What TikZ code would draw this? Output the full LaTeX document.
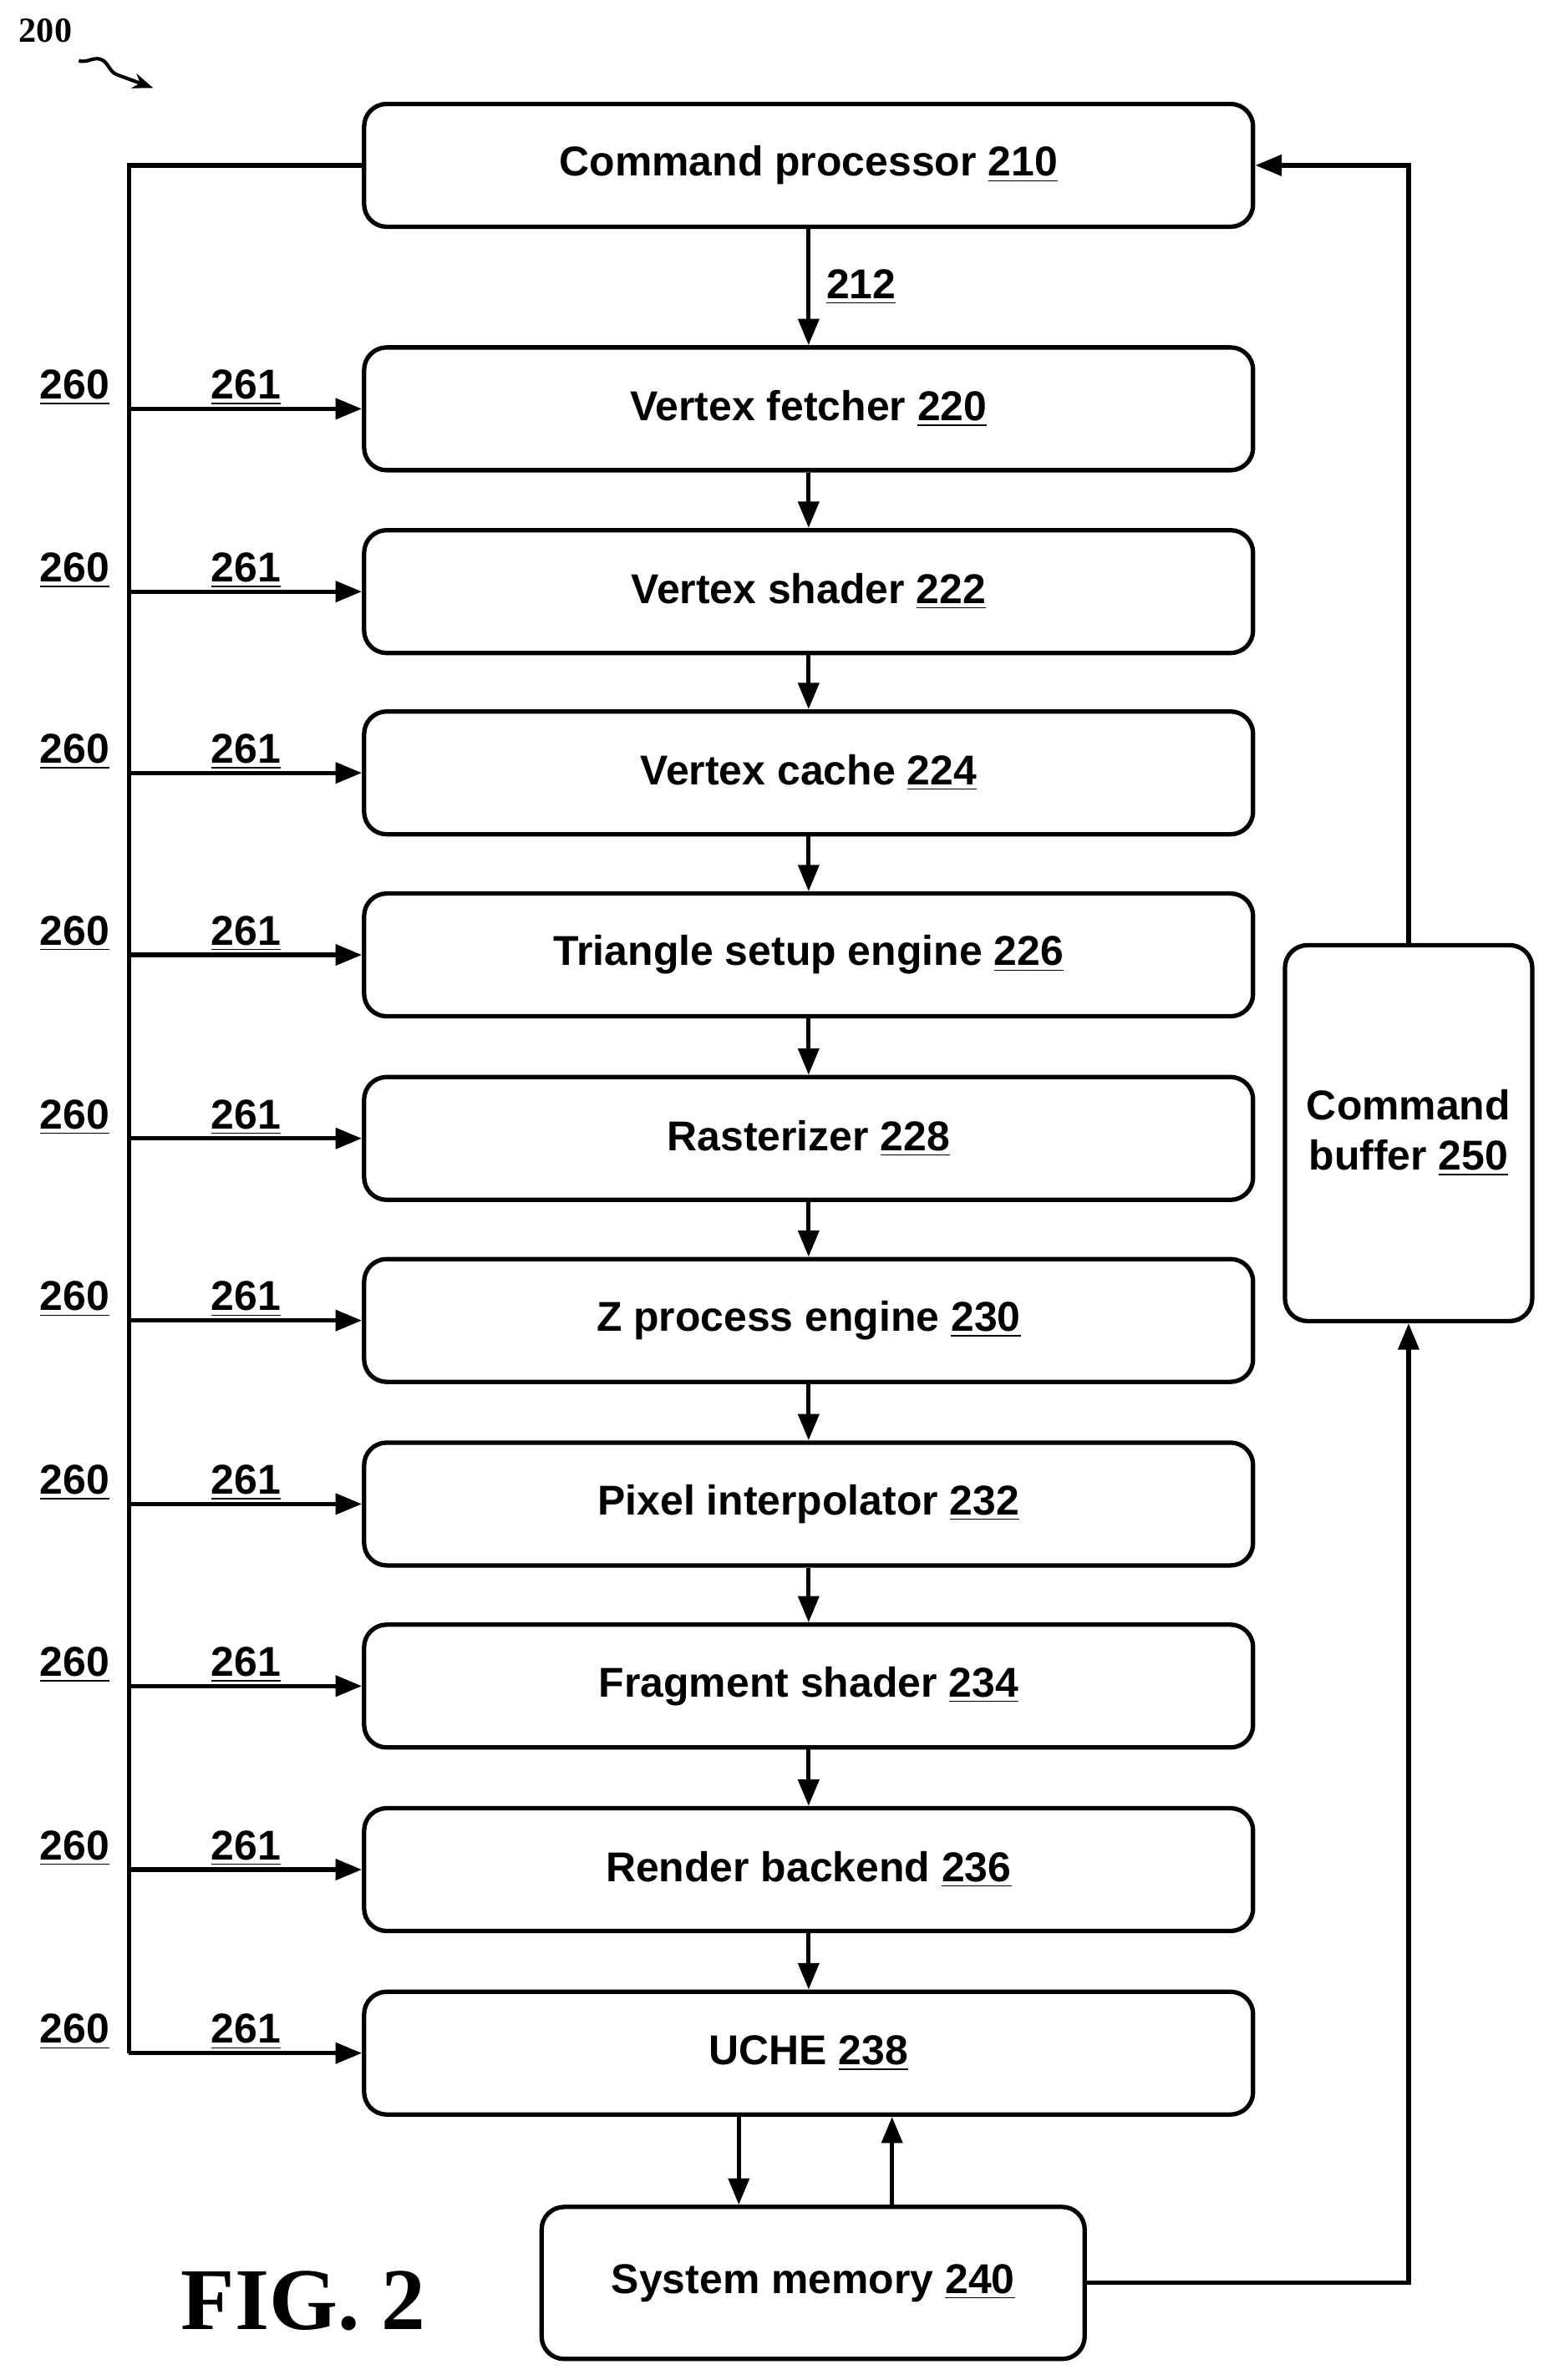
\documentclass[tikz,border=0pt]{standalone}
\usepackage{fontspec}
\setmainfont{Liberation Sans}
\newfontfamily\figfont{Liberation Serif}
\usetikzlibrary{arrows.meta,decorations.pathmorphing}

\tikzset{
  stage/.style={draw,line width=1.5pt,rounded corners=0.27cm,minimum width=10.64cm,minimum height=1.47cm,font=\bfseries\fontsize{14.2}{17}\selectfont,align=center},
  ref/.style={font=\bfseries\fontsize{14.2}{17}\selectfont},
  conn/.style={line width=1.5pt,-{Triangle[length=9pt,width=7pt]}},
  wire/.style={line width=1.5pt}
}
\newcommand{\num}[1]{\underline{#1}}

\begin{document}
\begin{tikzpicture}[x=0.018154cm,y=-0.018154cm]
\useasboundingbox (0,0) rectangle (1024,1569);
\node[stage] (cp) at (533,109) {Command processor \num{210}};
\foreach \name/\y/\txt in {vf/269.5/Vertex fetcher \num{220},vs/390/Vertex shader \num{222},vc/509.5/Vertex cache \num{224},ts/629.5/Triangle setup engine \num{226},ra/750.5/Rasterizer \num{228},zp/870.5/Z process engine \num{230},pi/991.5/Pixel interpolator \num{232},fs/1111.5/Fragment shader \num{234},rb/1232.5/Render backend \num{236},uc/1353.5/UCHE \num{238}}
  \node[stage] (\name) at (533,\y) {\txt};
\node[stage,minimum width=6.5cm,minimum height=1.82cm] (mem) at (536,1505) {System memory \num{240}};
\node[stage,minimum width=2.96cm,minimum height=4.5cm] (buf) at (928.5,747) {Command\\buffer \num{250}};

% pipeline
\draw[conn] (cp) -- node[ref,right,pos=0.5,xshift=2pt] {\num{212}} (vf);
\foreach \a/\b in {vf/vs,vs/vc,vc/ts,ts/ra,ra/zp,zp/pi,pi/fs,fs/rb,rb/uc}
  \draw[conn] (\a) -- (\b);

% state bus
\coordinate (bus) at (85,0);
\draw[wire] (cp.west) -| (bus |- uc.west);
\foreach \name in {vf,vs,vc,ts,ra,zp,pi,fs,rb,uc}{
  \draw[conn] (bus |- \name.west) -- (\name.west);
  \node[ref,above,inner sep=1pt,xshift=-0.65cm] at (bus |- \name.west) {\num{260}};
  \node[ref,above,inner sep=1pt,xshift=1.4cm] at (bus |- \name.west) {\num{261}};
}

% memory
\draw[conn] (uc.south -| 487,0) -- (mem.north -| 487,0);
\draw[conn] (mem.north -| 588,0) -- (uc.south -| 588,0);
\draw[conn] (mem.east) -| (buf.south);
\draw[conn] (buf.north) |- (cp.east);

\node[font=\figfont\bfseries\fontsize{12}{14}\selectfont] (fig) at (30,20) {200};
\draw[line width=1.2pt,-{Stealth[length=7pt]},decorate,decoration={snake,amplitude=3pt,segment length=22pt,post length=7pt}] (52,40) -- (101,58);
\node[font=\figfont\bfseries\fontsize{30}{34}\selectfont] (cap) at (200,1517) {FIG. 2};
\end{tikzpicture}
\end{document}
